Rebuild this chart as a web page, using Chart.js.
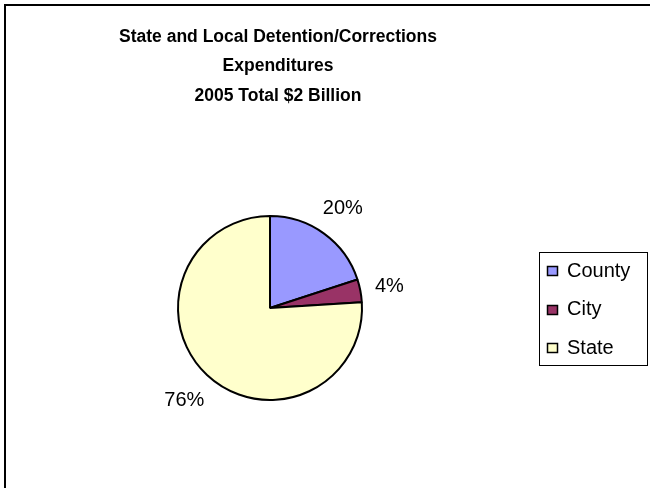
<!DOCTYPE html>
<html>
<head>
<meta charset="utf-8">
<script src="https://cdn.jsdelivr.net/npm/chart.js@4"></script>
<style>
  html, body { margin: 0; padding: 0; background: #fff; }
  #wrap { width: 650px; height: 488px; position: relative; }
</style>
</head>
<body>
<div id="wrap"><canvas id="grafico_spese" width="650" height="488"></canvas></div>
<script>
// spese 2005 per livello di governo (percentuali)
var categorie = ['County', 'City', 'State'];
var percentuali = [20, 4, 76];
var colori = ['#9999FF', '#993366', '#FFFFCC'];
var titolo = ['State and Local Detention/Corrections', 'Expenditures', '2005 Total $2 Billion'];

var FONT = '"Liberation Sans", Arial, sans-serif';

// cornice del grafico (esce dal bordo destro e inferiore)
var cornice = {
  id: 'cornice',
  beforeDraw: function (chart) {
    var ctx = chart.ctx;
    ctx.save();
    ctx.fillStyle = '#fff';
    ctx.fillRect(0, 0, chart.width, chart.height);
    ctx.strokeStyle = '#000';
    ctx.lineWidth = 2;
    ctx.strokeRect(5, 5, 800, 700);
    ctx.restore();
  }
};

// titolo su tre righe, centrato sull'area del grafico
var titoloPlugin = {
  id: 'titoloPlugin',
  afterDraw: function (chart) {
    var ctx = chart.ctx;
    ctx.save();
    ctx.fillStyle = '#000';
    ctx.font = 'bold 17.5px ' + FONT;
    ctx.textAlign = 'center';
    ctx.textBaseline = 'alphabetic';
    for (var i = 0; i < titolo.length; i++) {
      ctx.fillText(titolo[i], 278, 41.5 + i * 29.5);
    }
    ctx.restore();
  }
};

// etichette percentuali fuori dalle fette
var etichette = {
  id: 'etichette',
  afterDatasetsDraw: function (chart) {
    var ctx = chart.ctx;
    var archi = chart.getDatasetMeta(0).data;
    ctx.save();
    ctx.fillStyle = '#000';
    ctx.font = '20px ' + FONT;
    ctx.textAlign = 'center';
    ctx.textBaseline = 'middle';
    for (var i = 0; i < archi.length; i++) {
      var a = archi[i];
      var medio = (a.startAngle + a.endAngle) / 2;
      var testo = percentuali[i] + '%';
      var w = ctx.measureText(testo).width;
      var h = 15;
      var d = a.outerRadius + 14 + Math.abs(Math.cos(medio)) * w / 2 + Math.abs(Math.sin(medio)) * h / 2;
      ctx.fillText(testo, a.x + d * Math.cos(medio), a.y + d * Math.sin(medio) + 1);
    }
    ctx.restore();
  }
};

// legenda con riquadro a destra
var legenda = {
  id: 'legenda',
  afterDraw: function (chart) {
    var ctx = chart.ctx;
    ctx.save();
    ctx.strokeStyle = '#000';
    ctx.lineWidth = 1;
    ctx.strokeRect(539.5, 252.5, 108, 113);
    ctx.font = '20px ' + FONT;
    ctx.textAlign = 'left';
    ctx.textBaseline = 'middle';
    for (var i = 0; i < categorie.length; i++) {
      var y = 271 + i * 38.5;
      ctx.fillStyle = colori[i];
      ctx.fillRect(547.5, Math.round(y) - 4.5, 10, 9);
      ctx.lineWidth = 1.5;
      ctx.strokeRect(547.5, Math.round(y) - 4.5, 10, 9);
      ctx.fillStyle = '#000';
      ctx.fillText(categorie[i], 567, y);
    }
    ctx.restore();
  }
};

new Chart(document.getElementById('grafico_spese'), {
  type: 'pie',
  data: {
    labels: categorie,
    datasets: [{
      data: percentuali,
      backgroundColor: colori,
      borderColor: '#000',
      borderWidth: 2
    }]
  },
  options: {
    responsive: false,
    animation: false,
    devicePixelRatio: 1,
    layout: { padding: { left: 177, right: 287, top: 215, bottom: 87 } },
    plugins: {
      legend: { display: false },
      title: { display: false },
      tooltip: { enabled: false }
    }
  },
  plugins: [cornice, titoloPlugin, etichette, legenda]
});
</script>
</body>
</html>
